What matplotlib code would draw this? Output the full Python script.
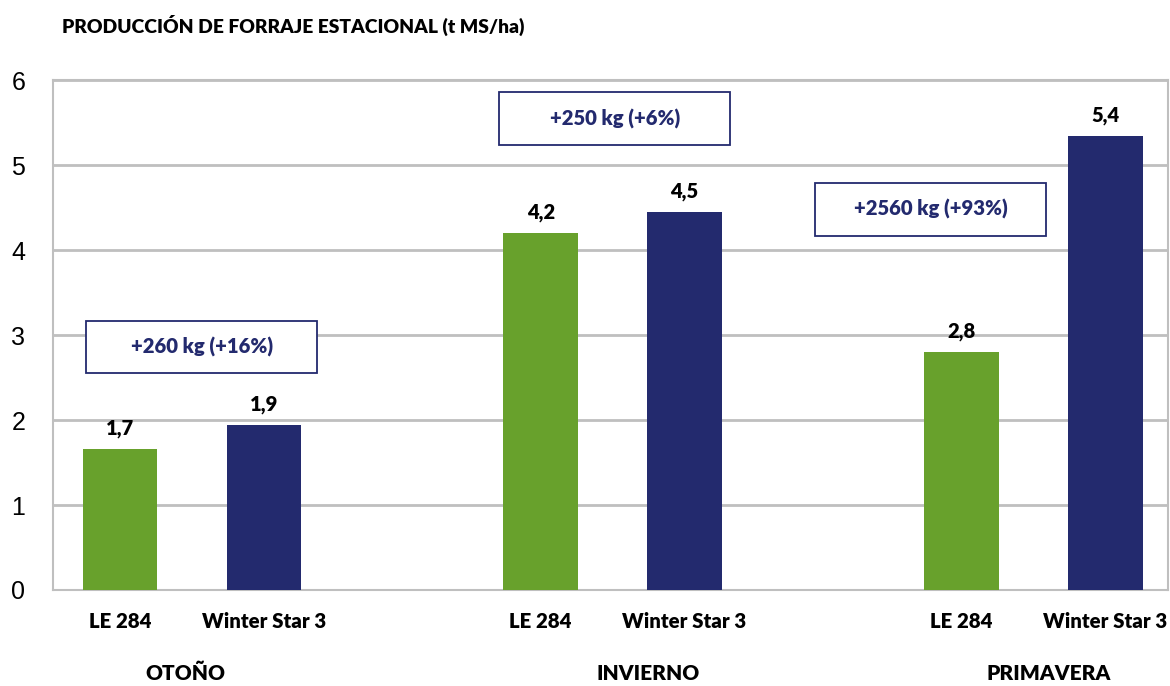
import matplotlib
matplotlib.use("Agg")
import matplotlib.pyplot as plt
from matplotlib.patches import Rectangle
from matplotlib.transforms import blended_transform_factory
import numpy as np

plt.rcParams['font.family'] = ['Lato', 'DejaVu Sans']

seasons = ['OTOÑO', 'INVIERNO', 'PRIMAVERA']
varieties = ['LE 284', 'Winter Star 3']
le284 = [1.66, 4.2, 2.8]
winter_star = [1.94, 4.45, 5.34]
le284_labels = ['1,7', '4,2', '2,8']
ws_labels = ['1,9', '4,5', '5,4']
diff_labels = ['+260 kg (+16%)', '+250 kg (+6%)', '+2560 kg (+93%)']
diff_y = [2.86, 5.55, 4.48]

green = '#68a12c'
navy = '#232a6e'
grid_c = '#bfbfbf'

fig = plt.figure(figsize=(11.7, 6.86), dpi=100)
ax = fig.add_axes([0.0453, 0.140, 0.953, 0.743])

x = np.arange(len(seasons))
off = 0.171
w = 0.177
b1 = ax.bar(x - off, le284, w, color=green, zorder=3)
b2 = ax.bar(x + off, winter_star, w, color=navy, zorder=3)

for bars, labs in [(b1, le284_labels), (b2, ws_labels)]:
    for b, lab in zip(bars, labs):
        ax.annotate(lab, (b.get_x() + b.get_width() / 2, b.get_height()),
                    xytext=(0, 8), textcoords='offset points',
                    ha='center', va='bottom', fontsize=14.5, fontweight='heavy',
                    color='#000000')

# cajas con la diferencia
bw, bh = 0.549, 0.62
box_dx = [0.024, 0.005, -0.244]
for xi, dx, yy, lab in zip(x, box_dx, diff_y, diff_labels):
    cx = xi + dx
    ax.add_patch(Rectangle((cx - bw / 2, yy - bh / 2), bw, bh, facecolor='white',
                           edgecolor=navy, linewidth=1.3, zorder=4))
    ax.text(cx, yy, lab, ha='center', va='center', fontsize=14.6,
            fontweight='heavy', color=navy, zorder=5)

ax.set_ylim(0, 6)
ax.set_xlim(-0.33, 2.32)
ax.set_yticks(range(7))
ax.tick_params(axis='y', length=0, labelsize=18, pad=20)
for t in ax.get_yticklabels():
    t.set_fontfamily(['Liberation Sans', 'DejaVu Sans'])
ax.yaxis.grid(True, color=grid_c, linewidth=2, zorder=0)
for s in ax.spines.values():
    s.set_color(grid_c)
    s.set_linewidth(1.5)

ticks = np.concatenate([x - off, x + off])
ax.set_xticks(ticks)
ax.set_xticklabels(varieties[:1] * 3 + varieties[1:] * 3, fontsize=14.7, fontweight='heavy')
ax.tick_params(axis='x', length=0, pad=16)

season_dx = [-0.016, 0.085, 0.037]
tr = blended_transform_factory(ax.transData, ax.transAxes)
for xi, dx, s in zip(x, season_dx, seasons):
    ax.text(xi + dx, -0.163, s, transform=tr, ha='center', va='center',
            fontsize=15, fontweight='heavy', color='#000000')

fig.text(0.053, 0.963, 'PRODUCCIÓN DE FORRAJE ESTACIONAL (t MS/ha)',
         fontsize=13.9, fontweight='heavy', color='#000000', va='center')

fig.savefig('out.png', dpi=100)
